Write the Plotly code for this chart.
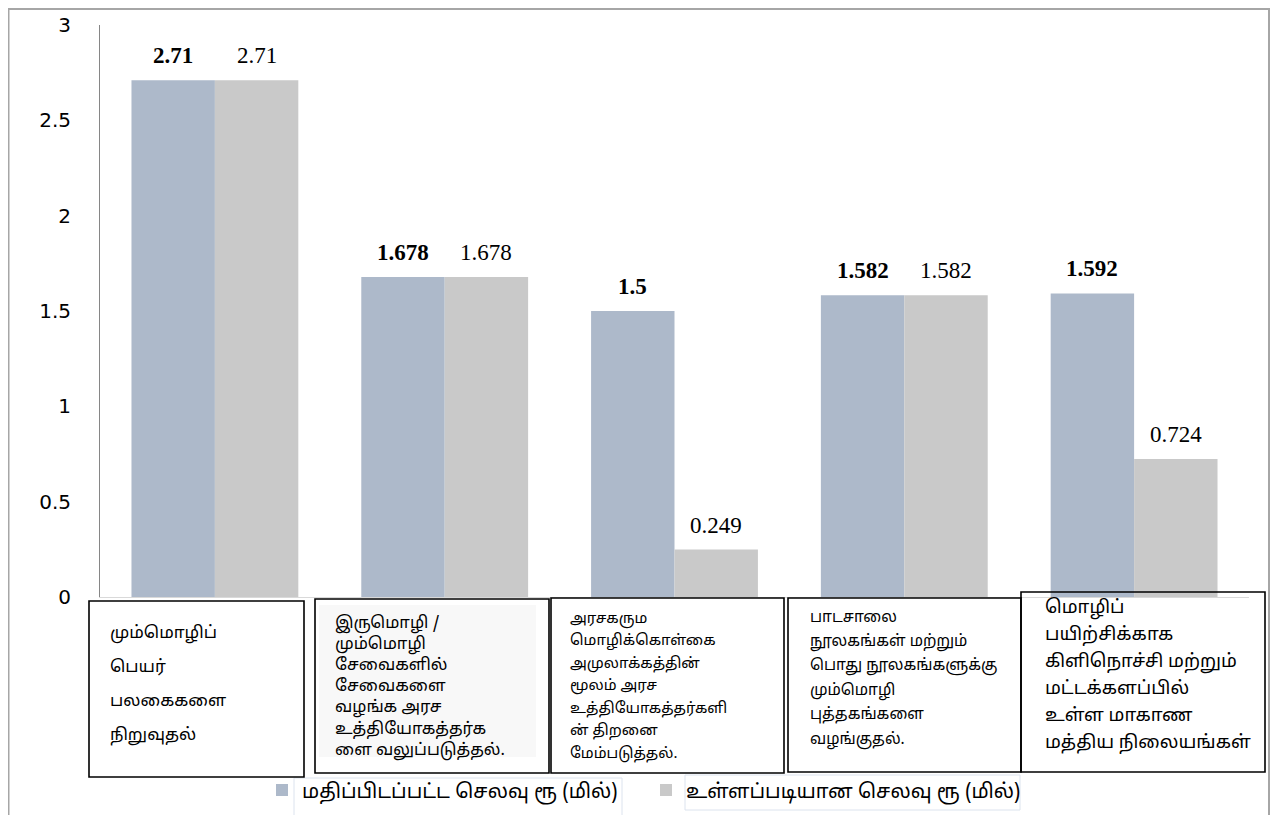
import plotly.graph_objects as go

# ---------------- data ----------------
category_lines = [
    ["மும்மொழிப்", "பெயர்", "பலகைகளை", "நிறுவுதல்"],
    ["இருமொழி /", "மும்மொழி", "சேவைகளில்", "சேவைகளை", "வழங்க அரச",
     "உத்தியோகத்தர்க", "ளை வலுப்படுத்தல்."],
    ["அரசகரும", "மொழிக்கொள்கை", "அமுலாக்கத்தின்", "மூலம் அரச",
     "உத்தியோகத்தர்களி", "ன் திறனை", "மேம்படுத்தல்."],
    ["பாடசாலை", "நூலகங்கள் மற்றும்", "பொது நூலகங்களுக்கு", "மும்மொழி",
     "புத்தகங்களை", "வழங்குதல்."],
    ["மொழிப்", "பயிற்சிக்காக", "கிளிநொச்சி மற்றும்", "மட்டக்களப்பில்",
     "உள்ள மாகாண", "மத்திய நிலையங்கள்"],
]
categories = [" ".join(l) for l in category_lines]
series_names = ["மதிப்பிடப்பட்ட செலவு ரூ (மில்)", "உள்ளப்படியான செலவு ரூ (மில்)"]
estimated = [2.71, 1.678, 1.5, 1.582, 1.592]
actual = [2.71, 1.678, 0.249, 1.582, 0.724]
y_ticks = [0, 0.5, 1, 1.5, 2, 2.5, 3]

# ---------------- layout geometry ----------------
OFF = 8                      # page body margin (window px)
W, H = 1266, 807             # figure size
ML, MR, MT, MB = 92, 25, 17, 218
PW, PH = W - ML - MR, H - MT - MB
BARGAP = 0.274
COLORS = ["#ADB9CA", "#C9C9C9"]
TAMIL = "Noto Sans Tamil, Noto Sans, DejaVu Sans"


def px(x):
    """window x pixel -> paper coordinate"""
    return (x - OFF - ML) / PW


def py(y):
    """window y pixel -> paper coordinate"""
    return (H - MB - (y - OFF)) / PH


fig = go.Figure()
for name, vals, col in zip(series_names, [estimated, actual], COLORS):
    fig.add_trace(go.Bar(x=categories, y=vals, name=name, marker_color=col,
                         marker_line_width=0))

annotations = []
bar_w = PW / len(categories) * (1 - BARGAP) / 2
for si, vals in enumerate([estimated, actual]):
    for c, v in zip(categories, vals):
        txt = f"<b>{v:g}</b>" if si == 0 else f"{v:g}"
        annotations.append(dict(
            x=c, y=v, xref="x", yref="y", text=txt, showarrow=False,
            xanchor="center", yanchor="bottom",
            xshift=(-0.5 if si == 0 else 0.5) * bar_w, yshift=10,
            font=dict(family="Liberation Serif", size=23, color="#000")))

# category label boxes (window px): x0, x1, y0, y1, text_x, first_line_y, step, font
boxes = [
    (89, 304, 601, 777, 108, 633, 34, 17),
    (315, 549, 599, 773, 333, 623, 21.2, 16.5),
    (551, 784, 598, 773, 568, 619, 22.5, 15),
    (788, 1021, 598, 772, 808, 618, 24.4, 15.5),
    (1021, 1265, 592, 772, 1043, 608, 27, 18.5),
]
shapes = [
    # outer frame
    dict(type="rect", xref="paper", yref="paper", x0=px(8.5), x1=px(1269),
         y0=py(840), y1=py(9), line=dict(color="#A6A6A6", width=2),
         fillcolor="rgba(0,0,0,0)", layer="below"),
    # faint text background in box 2
    dict(type="rect", xref="paper", yref="paper", x0=px(319), x1=px(536),
         y0=py(757), y1=py(605), line=dict(width=0), fillcolor="#F8F8F8",
         layer="above"),
    # legend text frames
    dict(type="rect", xref="paper", yref="paper", x0=px(294), x1=px(622),
         y0=py(817), y1=py(778), line=dict(color="#DCE3EE", width=1),
         fillcolor="rgba(0,0,0,0)"),
    dict(type="rect", xref="paper", yref="paper", x0=px(685), x1=px(1020),
         y0=py(810), y1=py(775), line=dict(color="#DCE3EE", width=1),
         fillcolor="rgba(0,0,0,0)"),
]
for (x0, x1, y0, y1, tx, ly, step, fs), lines in zip(boxes, category_lines):
    shapes.append(dict(type="rect", xref="paper", yref="paper",
                       x0=px(x0), x1=px(x1), y0=py(y1), y1=py(y0),
                       line=dict(color="#000", width=1.6),
                       fillcolor="rgba(0,0,0,0)"))
    for i, t in enumerate(lines):
        annotations.append(dict(
            x=px(tx), y=py(ly + i * step), xref="paper", yref="paper",
            text=t, showarrow=False, xanchor="left", yanchor="middle",
            font=dict(family=TAMIL, size=fs, color="#000")))

fig.update_layout(
    width=W, height=H,
    margin=dict(l=ML, r=MR, t=MT, b=MB, pad=0, autoexpand=False),
    paper_bgcolor="white", plot_bgcolor="white",
    barmode="group", bargap=BARGAP, bargroupgap=0,
    showlegend=True,
    legend=dict(orientation="h", x=px(262), y=py(790), xanchor="left",
                yanchor="middle", entrywidth=339, entrywidthmode="pixels",
                font=dict(family=TAMIL, size=20, color="#000"),
                bgcolor="rgba(0,0,0,0)", traceorder="normal"),
    xaxis=dict(range=[-0.5, 4.5], showticklabels=False, showgrid=False,
               showline=True, linecolor="#D9D9D9", linewidth=1, ticks="",
               zeroline=False, fixedrange=True, automargin=False),
    yaxis=dict(range=[0, 3], tickvals=y_ticks, ticktext=[f"{t:g}" for t in y_ticks],
               showgrid=False, zeroline=False, showline=True,
               linecolor="#868686", linewidth=1, ticks="",
               ticklabelstandoff=24, automargin=False,
               tickfont=dict(family="DejaVu Sans", size=20, color="#000"),
               fixedrange=True),
    annotations=annotations,
    shapes=shapes,
)

fig.write_html("out.html")
